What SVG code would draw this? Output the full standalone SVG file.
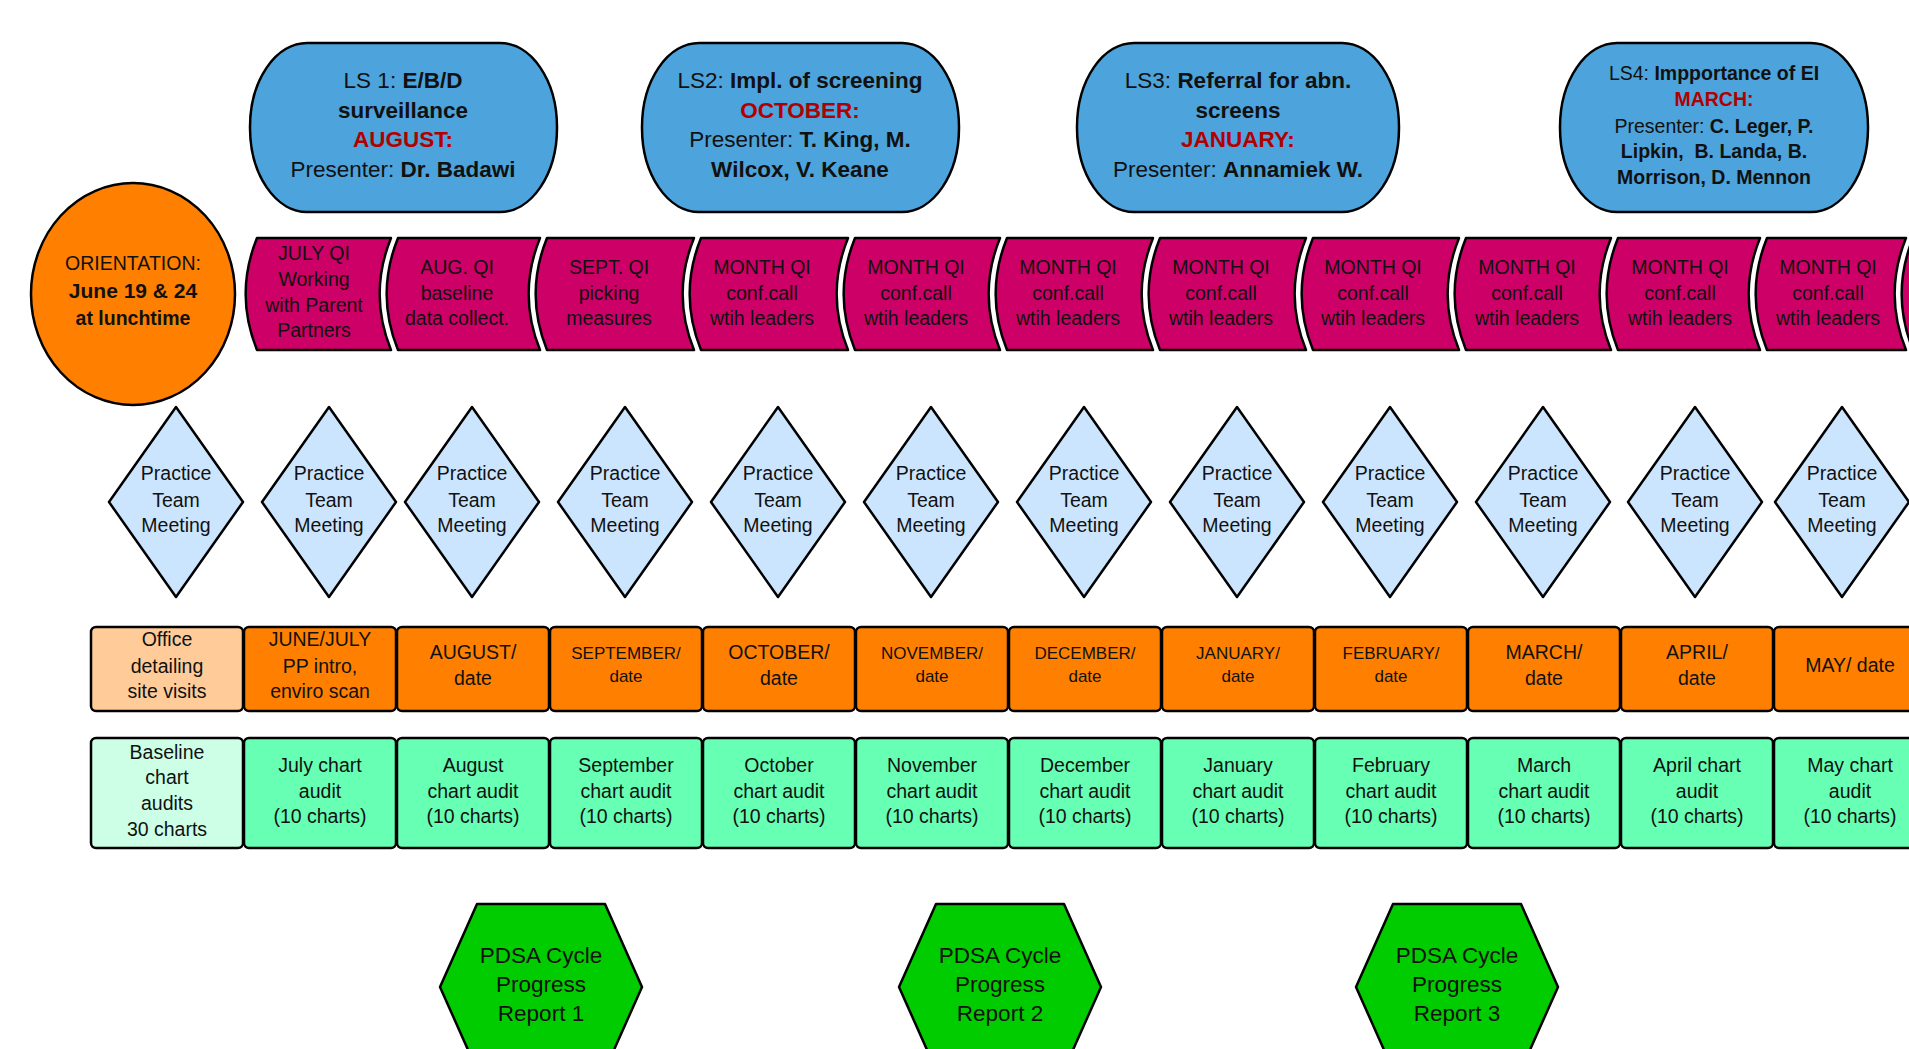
<svg xmlns="http://www.w3.org/2000/svg" width="1909" height="1049" viewBox="0 0 1909 1049">
<style>
.t{font-family:"Liberation Sans",Arial,sans-serif;font-size:19.5px;fill:#111;text-anchor:middle}
.l{font-size:22.5px}
.m{font-size:17px}
.b{font-weight:bold}
.red{fill:#B00000}
.s{stroke:#000;stroke-width:2.5;stroke-linejoin:round}
.pill{fill:#4DA3DB}
.mag{fill:#CC0066}
.dia{fill:#CCE5FF}
.or{fill:#FF8000}
.pe{fill:#FFCC99}
.gr{fill:#66FFB3}
.lg{fill:#CCFFE6}
.hex{fill:#00CC00}
</style>
<rect width="1909" height="1049" fill="#fff"/>
<g id="connectors"/>

<g id="orientation">
<ellipse class="s or" cx="133" cy="294" rx="102" ry="111"/>
<text class="t" x="133" y="270">ORIENTATION:</text>
<text class="t b" x="133" y="297.5" style="font-size:21px">June 19 &amp; 24</text>
<text class="t b" x="133" y="325">at lunchtime</text>
</g>

<g id="ls1">
<rect class="s pill" x="250" y="43" width="307" height="169" rx="57" ry="84"/>
<text class="t l" x="403" y="88">LS 1: <tspan class="b">E/B/D</tspan></text>
<text class="t l b" x="403" y="118">surveillance</text>
<text class="t l b red" x="403" y="147">AUGUST:</text>
<text class="t l" x="403" y="177">Presenter: <tspan class="b">Dr. Badawi</tspan></text>
</g>
<g id="ls2">
<rect class="s pill" x="642" y="43" width="317" height="169" rx="57" ry="84"/>
<text class="t l" x="800" y="88">LS2: <tspan class="b">Impl. of screening</tspan></text>
<text class="t l b red" x="800" y="118">OCTOBER:</text>
<text class="t l" x="800" y="147">Presenter: <tspan class="b">T. King, M.</tspan></text>
<text class="t l b" x="800" y="177">Wilcox, V. Keane</text>
</g>
<g id="ls3">
<rect class="s pill" x="1077" y="43" width="322" height="169" rx="57" ry="84"/>
<text class="t l" x="1238" y="88">LS3: <tspan class="b">Referral for abn.</tspan></text>
<text class="t l b" x="1238" y="118">screens</text>
<text class="t l b red" x="1238" y="147">JANUARY:</text>
<text class="t l" x="1238" y="177">Presenter: <tspan class="b">Annamiek W.</tspan></text>
</g>
<g id="ls4">
<rect class="s pill" x="1560" y="43" width="308" height="169" rx="57" ry="84"/>
<text class="t" x="1714" y="80">LS4: <tspan class="b">Impportance of EI</tspan></text>
<text class="t b red" x="1714" y="106">MARCH:</text>
<text class="t" x="1714" y="133">Presenter: <tspan class="b">C. Leger, P.</tspan></text>
<text class="t b" x="1714" y="158" xml:space="preserve">Lipkin,  B. Landa, B.</text>
<text class="t b" x="1714" y="184">Morrison, D. Mennon</text>
</g>

<g id="qi1">
<path class="s mag" d="M257 238 L391 238 C376 275 376 313 391 350 L257 350 C242 313 242 275 257 238 Z"/>
<text class="t" x="314" y="260">JULY QI</text><text class="t" x="314" y="286">Working</text><text class="t" x="314" y="312">with Parent</text><text class="t" x="314" y="337">Partners</text>
</g>
<g id="qi2">
<path class="s mag" d="M398 238 L540 238 C525 275 525 313 540 350 L398 350 C383 313 383 275 398 238 Z"/>
<text class="t" x="457" y="274">AUG. QI</text><text class="t" x="457" y="299.5">baseline</text><text class="t" x="457" y="324.5">data collect.</text>
</g>
<g id="qi3">
<path class="s mag" d="M547 238 L694 238 C679 275 679 313 694 350 L547 350 C532 313 532 275 547 238 Z"/>
<text class="t" x="609" y="274">SEPT. QI</text><text class="t" x="609" y="299.5">picking</text><text class="t" x="609" y="324.5">measures</text>
</g>
<g id="qi4">
<path class="s mag" d="M701 238 L848 238 C833 275 833 313 848 350 L701 350 C686 313 686 275 701 238 Z"/>
<text class="t" x="762" y="274">MONTH QI</text><text class="t" x="762" y="299.5">conf.call</text><text class="t" x="762" y="324.5">wtih leaders</text>
</g>
<g id="qi5">
<path class="s mag" d="M855 238 L1000 238 C985 275 985 313 1000 350 L855 350 C840 313 840 275 855 238 Z"/>
<text class="t" x="916" y="274">MONTH QI</text><text class="t" x="916" y="299.5">conf.call</text><text class="t" x="916" y="324.5">wtih leaders</text>
</g>
<g id="qi6">
<path class="s mag" d="M1007 238 L1153 238 C1138 275 1138 313 1153 350 L1007 350 C992 313 992 275 1007 238 Z"/>
<text class="t" x="1068" y="274">MONTH QI</text><text class="t" x="1068" y="299.5">conf.call</text><text class="t" x="1068" y="324.5">wtih leaders</text>
</g>
<g id="qi7">
<path class="s mag" d="M1160 238 L1306 238 C1291 275 1291 313 1306 350 L1160 350 C1145 313 1145 275 1160 238 Z"/>
<text class="t" x="1221" y="274">MONTH QI</text><text class="t" x="1221" y="299.5">conf.call</text><text class="t" x="1221" y="324.5">wtih leaders</text>
</g>
<g id="qi8">
<path class="s mag" d="M1313 238 L1459 238 C1444 275 1444 313 1459 350 L1313 350 C1298 313 1298 275 1313 238 Z"/>
<text class="t" x="1373" y="274">MONTH QI</text><text class="t" x="1373" y="299.5">conf.call</text><text class="t" x="1373" y="324.5">wtih leaders</text>
</g>
<g id="qi9">
<path class="s mag" d="M1466 238 L1611 238 C1596 275 1596 313 1611 350 L1466 350 C1451 313 1451 275 1466 238 Z"/>
<text class="t" x="1527" y="274">MONTH QI</text><text class="t" x="1527" y="299.5">conf.call</text><text class="t" x="1527" y="324.5">wtih leaders</text>
</g>
<g id="qi10">
<path class="s mag" d="M1618 238 L1760 238 C1745 275 1745 313 1760 350 L1618 350 C1603 313 1603 275 1618 238 Z"/>
<text class="t" x="1680" y="274">MONTH QI</text><text class="t" x="1680" y="299.5">conf.call</text><text class="t" x="1680" y="324.5">wtih leaders</text>
</g>
<g id="qi11">
<path class="s mag" d="M1767 238 L1906 238 C1891 275 1891 313 1906 350 L1767 350 C1752 313 1752 275 1767 238 Z"/>
<text class="t" x="1828" y="274">MONTH QI</text><text class="t" x="1828" y="299.5">conf.call</text><text class="t" x="1828" y="324.5">wtih leaders</text>
</g>
<g id="qi12">
<path class="s mag" d="M1913 238 L1970 238 L1970 350 L1913 350 C1898 313 1898 275 1913 238 Z"/>
</g>

<defs>
<g id="dm">
<polygon class="s dia" points="0,-95 67,0 0,95 -67,0"/>
<text class="t" x="0" y="-22">Practice</text>
<text class="t" x="0" y="5">Team</text>
<text class="t" x="0" y="30">Meeting</text>
</g>
</defs>
<g id="ptm1"><use href="#dm" x="176" y="502"/></g>
<g id="ptm2"><use href="#dm" x="329" y="502"/></g>
<g id="ptm3"><use href="#dm" x="472" y="502"/></g>
<g id="ptm4"><use href="#dm" x="625" y="502"/></g>
<g id="ptm5"><use href="#dm" x="778" y="502"/></g>
<g id="ptm6"><use href="#dm" x="931" y="502"/></g>
<g id="ptm7"><use href="#dm" x="1084" y="502"/></g>
<g id="ptm8"><use href="#dm" x="1237" y="502"/></g>
<g id="ptm9"><use href="#dm" x="1390" y="502"/></g>
<g id="ptm10"><use href="#dm" x="1543" y="502"/></g>
<g id="ptm11"><use href="#dm" x="1695" y="502"/></g>
<g id="ptm12"><use href="#dm" x="1842" y="502"/></g>

<g id="visit0"><rect class="s pe" x="91" y="627" width="152" height="84" rx="5"/>
<text class="t" x="167" y="646">Office</text><text class="t" x="167" y="673">detailing</text><text class="t" x="167" y="698">site visits</text></g>
<g id="visit1"><rect class="s or" x="244" y="627" width="152" height="84" rx="5"/>
<text class="t" x="320" y="646">JUNE/JULY</text><text class="t" x="320" y="673">PP intro,</text><text class="t" x="320" y="698">enviro scan</text></g>
<g id="visit2"><rect class="s or" x="397" y="627" width="152" height="84" rx="5"/>
<text class="t" x="473" y="659">AUGUST/</text><text class="t" x="473" y="685">date</text></g>
<g id="visit3"><rect class="s or" x="550" y="627" width="152" height="84" rx="5"/>
<text class="t m" x="626" y="659">SEPTEMBER/</text><text class="t m" x="626" y="682">date</text></g>
<g id="visit4"><rect class="s or" x="703" y="627" width="152" height="84" rx="5"/>
<text class="t" x="779" y="659">OCTOBER/</text><text class="t" x="779" y="685">date</text></g>
<g id="visit5"><rect class="s or" x="856" y="627" width="152" height="84" rx="5"/>
<text class="t m" x="932" y="659">NOVEMBER/</text><text class="t m" x="932" y="682">date</text></g>
<g id="visit6"><rect class="s or" x="1009" y="627" width="152" height="84" rx="5"/>
<text class="t m" x="1085" y="659">DECEMBER/</text><text class="t m" x="1085" y="682">date</text></g>
<g id="visit7"><rect class="s or" x="1162" y="627" width="152" height="84" rx="5"/>
<text class="t m" x="1238" y="659">JANUARY/</text><text class="t m" x="1238" y="682">date</text></g>
<g id="visit8"><rect class="s or" x="1315" y="627" width="152" height="84" rx="5"/>
<text class="t m" x="1391" y="659">FEBRUARY/</text><text class="t m" x="1391" y="682">date</text></g>
<g id="visit9"><rect class="s or" x="1468" y="627" width="152" height="84" rx="5"/>
<text class="t" x="1544" y="659">MARCH/</text><text class="t" x="1544" y="685">date</text></g>
<g id="visit10"><rect class="s or" x="1621" y="627" width="152" height="84" rx="5"/>
<text class="t" x="1697" y="659">APRIL/</text><text class="t" x="1697" y="685">date</text></g>
<g id="visit11"><rect class="s or" x="1774" y="627" width="152" height="84" rx="5"/>
<text class="t" x="1850" y="672">MAY/ date</text></g>

<g id="audit0"><rect class="s lg" x="91" y="738" width="152" height="110" rx="5"/>
<text class="t" x="167" y="759">Baseline</text><text class="t" x="167" y="784">chart</text><text class="t" x="167" y="810">audits</text><text class="t" x="167" y="836">30 charts</text></g>
<g id="audit1"><rect class="s gr" x="244" y="738" width="152" height="110" rx="5"/>
<text class="t" x="320" y="772">July chart</text><text class="t" x="320" y="798">audit</text><text class="t" x="320" y="823">(10 charts)</text></g>
<g id="audit2"><rect class="s gr" x="397" y="738" width="152" height="110" rx="5"/>
<text class="t" x="473" y="772">August</text><text class="t" x="473" y="798">chart audit</text><text class="t" x="473" y="823">(10 charts)</text></g>
<g id="audit3"><rect class="s gr" x="550" y="738" width="152" height="110" rx="5"/>
<text class="t" x="626" y="772">September</text><text class="t" x="626" y="798">chart audit</text><text class="t" x="626" y="823">(10 charts)</text></g>
<g id="audit4"><rect class="s gr" x="703" y="738" width="152" height="110" rx="5"/>
<text class="t" x="779" y="772">October</text><text class="t" x="779" y="798">chart audit</text><text class="t" x="779" y="823">(10 charts)</text></g>
<g id="audit5"><rect class="s gr" x="856" y="738" width="152" height="110" rx="5"/>
<text class="t" x="932" y="772">November</text><text class="t" x="932" y="798">chart audit</text><text class="t" x="932" y="823">(10 charts)</text></g>
<g id="audit6"><rect class="s gr" x="1009" y="738" width="152" height="110" rx="5"/>
<text class="t" x="1085" y="772">December</text><text class="t" x="1085" y="798">chart audit</text><text class="t" x="1085" y="823">(10 charts)</text></g>
<g id="audit7"><rect class="s gr" x="1162" y="738" width="152" height="110" rx="5"/>
<text class="t" x="1238" y="772">January</text><text class="t" x="1238" y="798">chart audit</text><text class="t" x="1238" y="823">(10 charts)</text></g>
<g id="audit8"><rect class="s gr" x="1315" y="738" width="152" height="110" rx="5"/>
<text class="t" x="1391" y="772">February</text><text class="t" x="1391" y="798">chart audit</text><text class="t" x="1391" y="823">(10 charts)</text></g>
<g id="audit9"><rect class="s gr" x="1468" y="738" width="152" height="110" rx="5"/>
<text class="t" x="1544" y="772">March</text><text class="t" x="1544" y="798">chart audit</text><text class="t" x="1544" y="823">(10 charts)</text></g>
<g id="audit10"><rect class="s gr" x="1621" y="738" width="152" height="110" rx="5"/>
<text class="t" x="1697" y="772">April chart</text><text class="t" x="1697" y="798">audit</text><text class="t" x="1697" y="823">(10 charts)</text></g>
<g id="audit11"><rect class="s gr" x="1774" y="738" width="152" height="110" rx="5"/>
<text class="t" x="1850" y="772">May chart</text><text class="t" x="1850" y="798">audit</text><text class="t" x="1850" y="823">(10 charts)</text></g>

<defs>
<g id="hx">
<polygon class="s hex" points="-64,-83 64,-83 101,0 64,83 -64,83 -101,0"/>
</g>
</defs>
<g id="pdsa1"><use href="#hx" x="541" y="987"/>
<text class="t l" x="541" y="963">PDSA Cycle</text><text class="t l" x="541" y="992">Progress</text><text class="t l" x="541" y="1021">Report 1</text></g>
<g id="pdsa2"><use href="#hx" x="1000" y="987"/>
<text class="t l" x="1000" y="963">PDSA Cycle</text><text class="t l" x="1000" y="992">Progress</text><text class="t l" x="1000" y="1021">Report 2</text></g>
<g id="pdsa3"><use href="#hx" x="1457" y="987"/>
<text class="t l" x="1457" y="963">PDSA Cycle</text><text class="t l" x="1457" y="992">Progress</text><text class="t l" x="1457" y="1021">Report 3</text></g>
</svg>
